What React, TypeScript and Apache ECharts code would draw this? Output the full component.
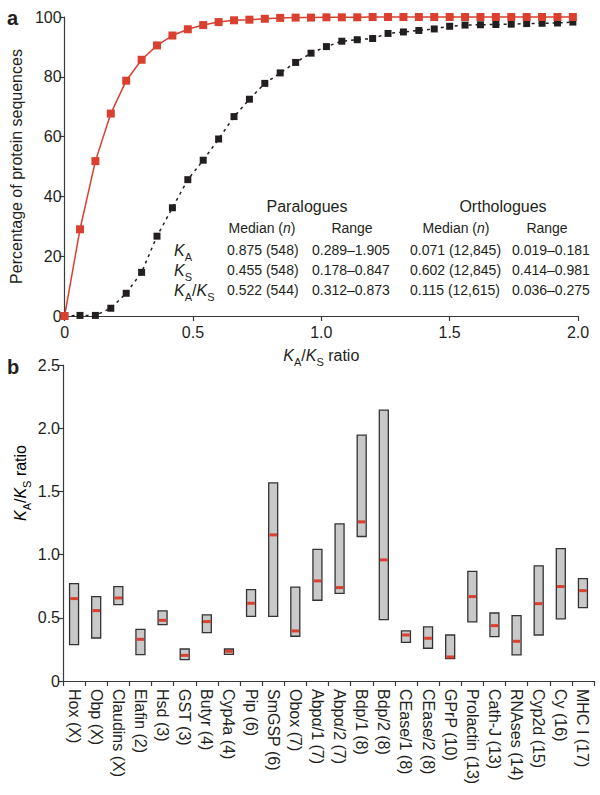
import React, { useEffect, useRef } from 'react';
import * as echarts from 'echarts';

const FONT = 'Liberation Sans, Arial, Helvetica, sans-serif';
const INK = '#231f20';
const RED = '#d9402f';

// Panel a: cumulative distribution of KA/KS
const ratioX = [0, 0.06, 0.12, 0.18, 0.24, 0.3, 0.36, 0.42, 0.48, 0.54, 0.6, 0.66, 0.72, 0.78, 0.84, 0.9,
  0.96, 1.02, 1.08, 1.14, 1.2, 1.26, 1.32, 1.38, 1.44, 1.5, 1.56, 1.62, 1.68, 1.74, 1.8, 1.86, 1.92, 1.98];
const paraloguesPct = [0, 0.2, 0.2, 2.6, 7.6, 14.6, 26.7, 36.2, 45.6, 52.1, 59.2, 66.7, 72.5, 77.8, 81.3, 84.8,
  87.9, 90.1, 91.9, 92.4, 92.8, 94.5, 95.0, 95.5, 96.0, 96.9, 97.3, 97.4, 97.5, 97.6, 97.8, 97.9, 98.0, 98.3];
const orthologuesPct = [0, 29.0, 51.8, 67.7, 78.7, 85.7, 90.5, 93.8, 95.9, 97.3, 98.3, 98.9, 99.1, 99.4, 99.7, 99.8,
  99.8, 99.9, 99.9, 99.9, 100, 100, 100, 100, 100, 100, 100, 100, 100, 100, 100, 100, 100, 100];

// Table in panel a
const tableGroups = ['Paralogues', 'Orthologues'];
const tableRows = ['KA', 'KS', 'KA/KS'];
const paraMedian = ['0.875 (548)', '0.455 (548)', '0.522 (544)'];
const paraRange = ['0.289–1.905', '0.178–0.847', '0.312–0.873'];
const orthoMedian = ['0.071 (12,845)', '0.602 (12,845)', '0.115 (12,615)'];
const orthoRange = ['0.019–0.181', '0.414–0.981', '0.036–0.275'];

// Panel b: KA/KS ranges per gene family
const families = ['Hox (X)', 'Obp (X)', 'Claudins (X)', 'Elafin (2)', 'Hsd (3)', 'GST (3)', 'Butyr (4)', 'Cyp4a (4)',
  'Pip (6)', 'SmGSP (6)', 'Obox (7)', 'Abpα/1 (7)', 'Abpα/2 (7)', 'Bdp/1 (8)', 'Bdp/2 (8)', 'CEase/1 (8)',
  'CEase/2 (8)', 'GPrP (10)', 'Prolactin (13)', 'Cath-J (13)', 'RNAses (14)', 'Cyp2d (15)', 'Cy (16)', 'MHC I (17)'];
const rangeLow = [0.288, 0.34, 0.604, 0.208, 0.446, 0.169, 0.383, 0.211, 0.512, 0.512, 0.354, 0.639, 0.694, 1.143,
  0.486, 0.306, 0.259, 0.177, 0.467, 0.351, 0.206, 0.364, 0.491, 0.581];
const rangeHigh = [0.771, 0.668, 0.747, 0.409, 0.554, 0.253, 0.523, 0.253, 0.723, 1.568, 0.742, 1.042, 1.243, 1.945,
  2.143, 0.396, 0.428, 0.364, 0.868, 0.538, 0.517, 0.911, 1.048, 0.81];
const medianRatio = [0.652, 0.557, 0.657, 0.33, 0.48, 0.203, 0.47, 0.235, 0.615, 1.156, 0.396, 0.792, 0.739, 1.259,
  0.958, 0.364, 0.338, 0.19, 0.668, 0.438, 0.314, 0.612, 0.747, 0.715];

const subRich = (size: number) => ({
  k: { fontFamily: FONT, fontSize: size, fontStyle: 'italic', color: INK, lineHeight: size + 8 },
  n: { fontFamily: FONT, fontSize: size, color: INK, lineHeight: size + 8 },
  s: { fontFamily: FONT, fontSize: Math.round(size * 0.68), color: INK, verticalAlign: 'bottom' },
});

const kText = (label: string) =>
  label.split('/').map((p) => `{k|K}{s|${p.slice(1)}}`).join('{n|/}');

function fmt1(v: number) {
  return v === 0 ? '0' : v.toFixed(1);
}

export default function App() {
  const ref = useRef<HTMLDivElement>(null);
  useEffect(() => {
    if (!ref.current) return;
    const chart = echarts.init(ref.current, undefined, { renderer: 'svg' });

    const graphics: any[] = [];
    const txt = (x: number, y: number, text: string, opts: any = {}) =>
      graphics.push({
        type: 'text', x, y, silent: true,
        style: { text, fontFamily: FONT, fontSize: 14, fill: INK, textAlign: 'left', textVerticalAlign: 'middle', ...opts },
      });

    txt(7, 18, 'a', { fontSize: 20, fontWeight: 'bold' });
    txt(7, 367, 'b', { fontSize: 20, fontWeight: 'bold' });

    // table
    txt(307, 206, tableGroups[0], { fontSize: 16, textAlign: 'center' });
    txt(503, 206, tableGroups[1], { fontSize: 16, textAlign: 'center' });
    const medHead = { text: '{a|Median (}{i|n}{a|)}', rich: { a: { fontFamily: FONT, fontSize: 14, color: INK }, i: { fontFamily: FONT, fontSize: 14, fontStyle: 'italic', color: INK } } };
    txt(262, 228, '', { ...medHead, textAlign: 'center' });
    txt(352, 228, 'Range', { textAlign: 'center' });
    txt(456, 228, '', { ...medHead, textAlign: 'center' });
    txt(547, 228, 'Range', { textAlign: 'center' });
    const rowY = [250, 270, 290];
    tableRows.forEach((r, i) => {
      txt(174, rowY[i], kText(r), { rich: subRich(16), text: kText(r) });
      txt(227, rowY[i], paraMedian[i]);
      txt(312, rowY[i], paraRange[i]);
      txt(410, rowY[i], orthoMedian[i]);
      txt(512, rowY[i], orthoRange[i]);
    });

    // y title panel b
    graphics.push({
      type: 'text', x: 20, y: 483, rotation: Math.PI / 2, silent: true,
      style: { text: kText('KA/KS') + '{n| ratio}', rich: subRich(16), textAlign: 'center', textVerticalAlign: 'middle' },
    });

    const axisLine = { show: true, lineStyle: { color: '#3a3a3a', width: 1.2 } };
    const axisTick = { show: true, length: 5, lineStyle: { color: '#3a3a3a', width: 1.2 } };
    const axisLabel = { fontFamily: FONT, fontSize: 16, color: INK };

    chart.setOption({
      animation: false,
      backgroundColor: '#ffffff',
      grid: [
        { left: 62, top: 17, width: 516, height: 299 },
        { left: 63, top: 365, width: 531, height: 316 },
      ],
      xAxis: [
        {
          gridIndex: 0, type: 'value', min: 0, max: 2, interval: 0.5,
          axisLine, axisTick, splitLine: { show: false },
          axisLabel: { ...axisLabel, margin: 8, formatter: fmt1 },
          name: kText('KA/KS') + '{n| ratio}', nameLocation: 'middle', nameGap: 27,
          nameTextStyle: { rich: subRich(16) },
        },
        {
          gridIndex: 1, type: 'category', data: families, boundaryGap: true,
          axisLine, axisTick: { ...axisTick, interval: 0 },
          axisLabel: { ...axisLabel, rotate: -90, interval: 0, margin: 8 },
        },
      ],
      yAxis: [
        {
          gridIndex: 0, type: 'value', min: 0, max: 100, interval: 20,
          axisLine, axisTick, splitLine: { show: false },
          axisLabel: { ...axisLabel, margin: 3 },
          name: 'Percentage of protein sequences', nameLocation: 'middle', nameGap: 35,
          nameTextStyle: { fontFamily: FONT, fontSize: 16, color: INK },
        },
        {
          gridIndex: 1, type: 'value', min: 0, max: 2.5, interval: 0.5,
          axisLine, axisTick, splitLine: { show: false },
          axisLabel: { ...axisLabel, margin: 3, formatter: fmt1 },
        },
      ],
      graphic: graphics,
      series: [
        {
          name: 'Paralogues', type: 'line', xAxisIndex: 0, yAxisIndex: 0, clip: false,
          data: ratioX.map((x, i) => [x, paraloguesPct[i]]),
          symbol: 'rect', symbolSize: 7,
          lineStyle: { color: INK, width: 1.5, type: [3, 4] },
          itemStyle: { color: INK },
        },
        {
          name: 'Orthologues', type: 'line', xAxisIndex: 0, yAxisIndex: 0, clip: false,
          data: ratioX.map((x, i) => [x, orthologuesPct[i]]),
          symbol: 'rect', symbolSize: 8,
          lineStyle: { color: RED, width: 1.5 },
          itemStyle: { color: RED },
        },
        {
          type: 'custom', xAxisIndex: 1, yAxisIndex: 1,
          data: families.map((f, i) => [i, rangeLow[i], rangeHigh[i], medianRatio[i]]),
          renderItem: (params: any, api: any) => {
            const idx = api.value(0);
            const top = api.coord([idx, api.value(2)]);
            const bot = api.coord([idx, api.value(1)]);
            const med = api.coord([idx, api.value(3)]);
            const w = 9;
            return {
              type: 'group',
              children: [
                {
                  type: 'rect',
                  shape: { x: top[0] - w / 2, y: top[1], width: w, height: bot[1] - top[1] },
                  style: { fill: '#c9c9c9', stroke: '#333333', lineWidth: 1.3 },
                },
                {
                  type: 'rect',
                  shape: { x: med[0] - w / 2 + 0.7, y: med[1] - 1.5, width: w - 1.4, height: 3 },
                  style: { fill: RED },
                },
              ],
            };
          },
        },
      ],
    });
    return () => chart.dispose();
  }, []);
  return <div ref={ref} style={{ position: 'absolute', left: 0, top: 0, width: 600, height: 795, background: '#fff' }} />;
}
